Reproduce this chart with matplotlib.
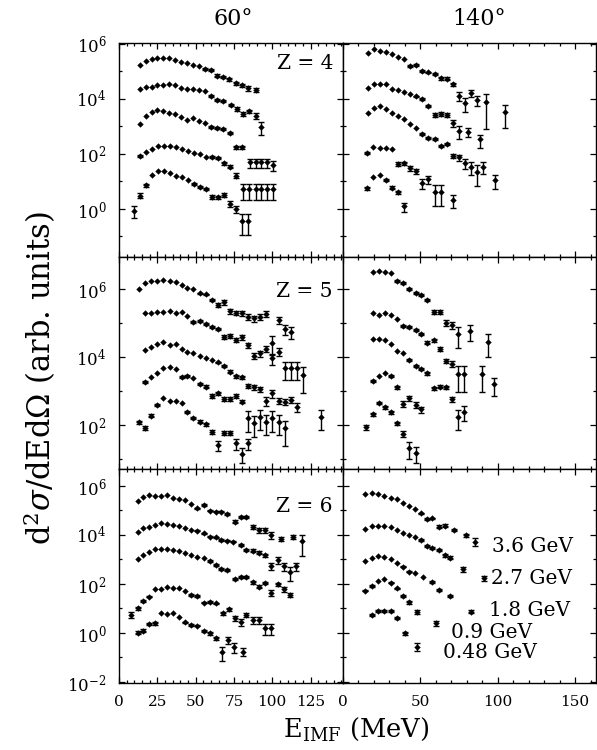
import numpy as np
import matplotlib
matplotlib.use("Agg")
import matplotlib.pyplot as plt
from matplotlib.ticker import FixedLocator, MultipleLocator, FuncFormatter, NullFormatter

plt.rcParams['font.family'] = ['DejaVu Serif']
plt.rcParams['mathtext.fontset'] = 'dejavuserif'

beam_labels = ["3.6 GeV", "2.7 GeV", "1.8 GeV", "0.9 GeV", "0.48 GeV"]
angle_labels = ["60°", "140°"]
charge_labels = ["Z = 4", "Z = 5", "Z = 6"]

# values: E (MeV), log10 of d2sigma/dEdOmega (arb. units), relative error
# ---- Z=4, 60 deg
z4a_e36 = [13.7,17.6,21.3,25.0,28.9,32.8,36.7,40.6,44.5,48.4,52.3,56.2,60.3,64.2,68.1,72.0,76.6,80.5,84.4,89.6]
z4a_l36 = [5.24,5.38,5.44,5.49,5.49,5.47,5.42,5.33,5.29,5.24,5.18,5.09,5.06,4.85,4.79,4.72,4.57,4.49,4.39,4.33]
z4a_f36 = [0,0,0,0,0,0,0,0,0,0,0,0.08,0.08,0.1,0.1,0.12,0.15,0.15,0.18,0.2]
z4a_e27 = [13.7,17.6,21.3,25.0,28.9,32.8,36.7,40.6,44.5,48.4,52.3,56.2,60.3,64.2,68.1,73.4,77.3,81.0,84.9,89.2,92.9]
z4a_l27 = [4.35,4.45,4.42,4.51,4.51,4.55,4.49,4.38,4.35,4.36,4.33,4.27,4.12,3.96,3.94,3.78,3.64,3.46,3.55,3.38,2.99]
z4a_f27 = [0,0,0,0,0,0,0,0,0,0,0,0,0.08,0.08,0.08,0.1,0.15,0.2,0.15,0.25,0.5]
z4a_e18 = [13.7,17.6,21.3,25.0,28.9,32.8,36.7,40.6,44.5,48.4,52.3,56.2,60.3,64.2,68.1,72.7,76.6,80.5,85.3,89.2,92.9,96.6,100.5]
z4a_l18 = [3.08,3.38,3.52,3.58,3.56,3.50,3.44,3.36,3.24,3.30,3.21,3.12,2.99,2.96,2.91,2.75,2.24,2.24,1.69,1.69,1.69,1.69,1.60]
z4a_f18 = [0,0,0,0,0,0,0,0,0,0,0,0,0.08,0.08,0.08,0.08,0.12,0.12,0.38,0.38,0.38,0.38,0.4]
z4a_e09 = [13.7,17.6,21.5,25.4,29.3,33.2,37.1,41.0,44.9,48.8,52.7,56.6,60.5,64.5,68.4,72.3,76.2,80.9,84.9,89.2,92.9,96.6,100.5]
z4a_l09 = [1.93,2.07,2.19,2.29,2.30,2.29,2.24,2.18,2.12,2.02,1.99,1.90,1.88,1.85,1.66,1.54,1.21,0.72,0.72,0.72,0.72,0.72,0.72]
z4a_f09 = [0.08,0,0,0,0,0,0,0,0,0,0,0,0.08,0.08,0.1,0.1,0.2,0.6,0.6,0.6,0.6,0.6,0.6]
z4a_e048 = [9.8,13.7,17.6,21.5,25.4,29.3,33.2,37.1,41.0,44.9,48.8,52.7,56.6,60.5,64.5,68.4,72.3,76.2,80.5,84.4]
z4a_l048 = [-0.07,0.485,0.86,1.24,1.39,1.37,1.32,1.18,1.15,1.06,0.91,0.81,0.72,0.45,0.42,0.51,0.18,0.0,-0.42,-0.42]
z4a_f048 = [0.45,0.2,0.1,0,0,0,0,0,0,0,0.08,0.08,0.1,0.15,0.15,0.15,0.25,0.3,0.7,0.7]
# ---- Z=4, 140 deg
z4b_e36 = [16.5,20.4,24.0,27.9,31.5,35.8,39.7,43.3,47.6,51.5,55.1,59.4,63.3,67.4,71.2,75.1,79.0,83.0,86.9,92.7,104.5]
z4b_l36 = [5.66,5.81,5.75,5.71,5.64,5.54,5.44,5.20,5.24,5.00,4.96,4.91,4.75,4.74,4.53,4.12,3.84,4.21,3.96,3.90,3.54]
z4b_f36 = [0,0,0,0,0,0,0,0.08,0.08,0.08,0.08,0.08,0.1,0.1,0.12,0.35,0.5,0.3,0.4,0.9,0.75]
z4b_e27 = [16.5,20.4,24.0,27.9,31.5,35.8,39.7,43.3,47.6,51.5,55.1,59.4,63.3,67.4,71.2,75.1,80.9,88.4]
z4b_l27 = [4.39,4.53,4.53,4.53,4.36,4.33,4.24,4.17,4.09,4.00,3.75,3.42,3.45,3.42,3.12,2.84,2.81,2.53]
z4b_f27 = [0,0,0,0,0,0,0,0,0.08,0.08,0.08,0.15,0.15,0.15,0.25,0.5,0.35,0.5]
z4b_e18 = [16.5,20.4,24.0,27.9,31.5,35.8,39.7,43.3,47.6,51.5,55.1,59.4,63.3,67.4,71.2,75.1,79.0,83.0,86.9,90.6,98.1]
z4b_l18 = [3.50,3.66,3.75,3.65,3.48,3.38,3.26,3.10,2.95,2.72,2.59,2.53,2.29,2.36,1.93,1.88,1.66,1.54,1.35,1.54,1.06]
z4b_f18 = [0,0,0,0,0,0,0,0,0,0.08,0.08,0.08,0.12,0.1,0.15,0.25,0.4,0.5,0.7,0.45,0.55]
z4b_e09 = [15.4,19.3,24.0,27.9,31.5,35.8,39.7,43.3,47.6,51.5,55.1,59.4,63.3,71.2]
z4b_l09 = [2.03,2.27,2.23,2.23,2.18,1.64,1.66,1.48,1.38,0.93,1.08,0.63,0.63,0.33]
z4b_f09 = [0.08,0,0,0,0,0.15,0.15,0.2,0.2,0.4,0.35,0.7,0.7,0.5]
z4b_e048 = [15.4,19.3,24.0,27.9,31.5,35.8,39.7]
z4b_l048 = [0.75,1.17,1.22,1.06,0.78,0.61,0.09]
z4b_f048 = [0.1,0,0,0.08,0.1,0.15,0.35]
# ---- Z=5, 60 deg
z5a_e36 = [13.0,16.9,20.6,24.5,28.9,33.2,37.1,40.8,44.7,48.4,52.7,56.6,60.8,64.7,68.6,72.5,76.6,80.5,84.2,88.1,92.0,96.1,104.2,108.1,112.0]
z5a_l36 = [6.00,6.17,6.25,6.25,6.27,6.25,6.22,6.11,6.02,6.00,5.87,5.84,5.68,5.53,5.61,5.35,5.30,5.28,5.19,5.14,5.19,5.26,5.09,4.82,4.75]
z5a_f36 = [0,0,0,0,0,0,0,0,0,0,0.06,0.06,0.08,0.15,0.15,0.15,0.15,0.15,0.2,0.2,0.2,0.2,0.25,0.35,0.4]
z5a_e27 = [16.9,20.6,24.5,28.9,33.2,37.1,40.8,44.7,48.4,52.7,56.6,60.8,64.7,68.6,72.5,76.6,80.5,84.2,88.1,92.0,96.1,100.0,104.2,108.1,112.0,115.9,120.0]
z5a_l27 = [5.28,5.28,5.33,5.31,5.36,5.28,5.31,5.22,5.04,5.07,4.97,4.89,4.82,4.60,4.63,4.50,4.58,4.35,4.04,4.11,4.23,4.42,4.16,3.67,3.67,3.67,3.47]
z5a_f27 = [0,0,0,0,0,0,0,0,0.06,0.06,0.06,0.06,0.08,0.15,0.15,0.15,0.15,0.15,0.2,0.2,0.2,0.55,0.25,0.55,0.55,0.55,0.7]
z5a_e18 = [16.9,20.6,24.5,28.9,33.2,37.1,40.8,44.7,48.4,52.7,56.6,60.8,64.7,68.6,72.5,76.6,80.5,84.2,88.1,92.0,96.1,100.0,104.2,108.1,112.0,115.9]
z5a_l18 = [4.21,4.30,4.37,4.45,4.35,4.37,4.23,4.16,4.11,4.04,3.98,3.91,3.84,3.74,3.57,3.44,3.40,3.15,3.11,3.05,2.72,2.93,2.72,2.69,2.74,2.54]
z5a_f18 = [0,0,0,0,0,0,0,0,0,0,0,0,0.06,0.08,0.08,0.1,0.1,0.15,0.15,0.15,0.3,0.25,0.2,0.2,0.2,0.3]
z5a_e09 = [16.9,20.6,24.5,28.9,33.2,37.1,40.8,44.7,48.4,52.7,56.6,60.8,64.7,68.6,72.5,76.6,80.5,84.2,88.1,92.0,96.1,100.0,100.0,104.2,108.1,131.9]
z5a_l09 = [3.26,3.42,3.52,3.67,3.70,3.64,3.42,3.44,3.37,3.21,3.13,2.86,2.93,2.77,2.77,2.85,2.69,2.20,2.05,2.25,2.10,2.20,3.96,2.10,1.90,2.25]
z5a_f09 = [0.08,0,0,0,0,0,0.06,0.06,0,0.06,0.08,0.12,0.12,0.12,0.12,0.12,0.12,0.6,0.6,0.6,0.6,0.6,0.35,0.6,0.7,0.6]
z5a_e048 = [13.0,16.9,20.6,24.5,28.9,33.2,37.1,40.8,44.7,48.4,52.7,56.6,60.8,64.7,68.6,72.5,76.6,80.5,84.2]
z5a_l048 = [2.08,1.92,2.27,2.59,2.78,2.71,2.72,2.66,2.39,2.20,2.10,2.03,1.80,1.41,1.77,1.77,1.46,1.15,1.46]
z5a_f048 = [0.12,0.15,0.1,0.06,0,0,0,0,0.06,0.08,0.1,0.1,0.15,0.35,0.15,0.15,0.35,0.45,0.35]
# ---- Z=5, 140 deg
z5b_e36 = [19.3,23.4,27.2,31.1,35.2,39.0,42.9,47.0,50.8,54.7,58.8,62.7,66.5,70.4,74.2,82.0,93.8]
z5b_l36 = [6.49,6.54,6.49,6.46,6.24,6.17,5.99,5.89,5.82,5.68,5.33,5.33,5.01,4.94,4.67,4.77,4.45]
z5b_f36 = [0,0,0,0,0.06,0.06,0.06,0.06,0.06,0.08,0.15,0.15,0.2,0.25,0.6,0.5,0.65]
z5b_e27 = [19.3,23.4,27.2,31.1,35.2,39.0,42.9,47.0,50.8,54.7,58.8,62.7,66.5,70.4,74.2,78.3,89.9,97.6]
z5b_l27 = [5.30,5.24,5.28,5.24,5.11,4.91,4.89,4.79,4.67,4.42,4.50,4.24,3.89,3.79,3.50,3.50,3.50,3.20]
z5b_f27 = [0,0,0,0,0,0.06,0.06,0.06,0.08,0.1,0.1,0.15,0.15,0.2,0.7,0.7,0.7,0.55]
z5b_e18 = [19.3,23.4,27.2,31.1,35.2,39.0,42.9,47.0,50.8,54.7,58.8,62.7,66.5,70.4,74.2,78.3]
z5b_l18 = [4.53,4.53,4.50,4.37,4.19,4.11,3.91,3.74,3.65,3.52,3.08,3.13,3.11,2.76,2.25,2.39]
z5b_f18 = [0,0,0,0,0,0,0.06,0.06,0.06,0.08,0.1,0.1,0.1,0.15,0.6,0.45]
z5b_e09 = [19.3,23.4,27.2,31.1,35.2,39.0,42.9,47.0,50.8]
z5b_l09 = [3.30,3.45,3.54,3.45,3.11,2.62,2.78,2.59,2.46]
z5b_f09 = [0.08,0,0,0.06,0.1,0.2,0.15,0.2,0.2]
z5b_e048 = [14.8,19.3,23.4,27.2,31.1,35.2,39.0,42.9,47.0]
z5b_l048 = [1.93,2.31,2.64,2.52,2.38,2.05,1.74,1.31,1.17]
z5b_f048 = [0.15,0.08,0.06,0.08,0.1,0.12,0.2,0.5,0.5]
# ---- Z=6, 60 deg
z6a_e36 = [12.2,15.8,19.8,23.4,27.3,31.2,35.4,39.3,43.2,47.3,51.2,55.6,59.2,63.2,66.8,70.7,75.5,79.4,83.1,87.5,91.4,95.1,99.4,105.5,113.5,119.6]
z6a_l36 = [5.39,5.54,5.63,5.59,5.59,5.62,5.50,5.46,5.43,5.25,5.09,5.22,4.99,4.95,4.95,4.86,4.54,4.72,4.72,4.34,4.20,4.20,4.00,3.84,3.93,3.76]
z6a_f36 = [0,0,0,0,0,0,0,0,0,0,0.06,0.06,0.06,0.06,0.06,0.06,0.15,0.1,0.1,0.2,0.25,0.25,0.3,0.2,0.2,0.75]
z6a_e27 = [12.2,15.8,19.8,23.4,27.3,31.2,35.4,39.3,43.2,47.3,51.2,55.6,59.2,63.2,66.8,70.7,74.4,79.4,83.1,87.5,91.4,95.1,99.4,103.7,107.4,111.3,115.7]
z6a_l27 = [4.11,4.27,4.34,4.41,4.48,4.45,4.41,4.38,4.30,4.20,4.18,4.07,3.93,3.91,3.80,3.77,3.73,3.59,3.39,3.36,3.28,3.18,2.73,2.98,2.73,2.50,2.73]
z6a_f27 = [0,0,0,0,0,0,0,0,0,0,0.06,0.06,0.06,0.06,0.06,0.06,0.08,0.1,0.12,0.12,0.12,0.15,0.3,0.3,0.35,0.6,0.35]
z6a_e18 = [12.2,15.8,19.8,23.4,27.3,31.2,35.4,39.3,43.2,47.3,51.2,55.6,59.2,63.2,66.8,70.7,75.5,79.4,83.1,87.5,91.4,95.1,99.4,103.7,107.4,111.3]
z6a_l18 = [3.01,3.18,3.32,3.42,3.42,3.42,3.39,3.36,3.28,3.18,3.12,3.05,2.94,2.78,2.61,2.57,2.20,2.30,2.30,2.07,1.89,2.03,1.65,1.99,1.78,1.55]
z6a_f18 = [0,0,0,0,0,0,0,0,0,0,0,0,0.06,0.06,0.08,0.08,0.1,0.1,0.1,0.15,0.15,0.1,0.25,0.15,0.2,0.2]
z6a_e09 = [7.8,12.2,15.8,19.8,23.4,27.3,31.2,35.4,39.3,43.2,47.3,51.2,55.6,59.2,63.2,67.9,71.6,75.5,79.4,83.1,87.5,91.4,95.1,99.4]
z6a_l09 = [0.74,1.01,1.31,1.48,1.78,1.78,1.86,1.85,1.82,1.71,1.55,1.51,1.24,1.28,1.21,0.80,0.97,0.60,0.46,0.74,0.53,0.53,0.19,0.19]
z6a_f09 = [0.25,0.15,0.1,0.06,0,0,0,0,0,0,0.06,0.06,0.08,0.08,0.08,0.15,0.15,0.2,0.3,0.2,0.3,0.3,0.45,0.45]
z6a_e048 = [12.2,15.8,19.8,23.4,27.3,31.2,35.4,39.3,43.2,47.3,51.2,55.6,59.2,63.2,67.3,71.2,75.1,80.9]
z6a_l048 = [0.01,0.10,0.37,0.39,0.83,0.78,0.80,0.67,0.44,0.33,0.30,0.10,-0.01,-0.22,-0.76,-0.29,-0.56,-0.76]
z6a_f048 = [0.15,0.12,0.1,0.1,0,0,0,0,0.06,0.06,0.06,0.1,0.12,0.15,0.6,0.3,0.45,0.35]
# ---- Z=6, 140 deg
z6b_e36 = [14.4,18.7,22.9,26.8,30.9,34.8,38.6,42.7,46.6,50.4,54.1,57.9,62.2,66.1,71.9,79.8,85.6]
z6b_l36 = [5.66,5.73,5.66,5.59,5.52,5.46,5.32,5.18,5.05,4.88,4.64,4.68,4.34,4.38,4.20,4.00,3.73]
z6b_f36 = [0,0,0,0,0,0,0,0,0,0.06,0.08,0.08,0.12,0.12,0.08,0.15,0.35]
z6b_e27 = [14.4,18.7,22.9,26.8,30.9,34.8,38.6,42.7,46.6,50.4,54.1,57.9,62.2,66.1,69.5,77.7,91.0]
z6b_l27 = [4.25,4.38,4.37,4.37,4.34,4.20,4.10,4.00,3.91,3.80,3.55,3.46,3.39,3.18,3.08,2.60,2.23]
z6b_f27 = [0,0,0,0,0,0,0,0,0,0.06,0.08,0.08,0.1,0.15,0.15,0.2,0.2]
z6b_e18 = [14.4,18.7,22.9,26.8,30.9,34.8,38.6,42.7,46.6,51.9,57.9,62.2,69.5,83.0]
z6b_l18 = [2.95,3.08,3.14,3.12,3.02,2.84,2.71,2.50,2.46,2.27,2.07,1.76,1.51,0.87]
z6b_f18 = [0,0,0,0,0,0,0.06,0.06,0,0,0.08,0.1,0.1,0.15]
z6b_e09 = [14.4,18.7,22.9,26.8,30.9,34.8,38.6,42.7,48.1,60.1]
z6b_l09 = [1.73,1.92,2.14,2.20,2.05,1.82,1.51,1.25,0.87,0.40]
z6b_f09 = [0.08,0.06,0,0,0.06,0.08,0.1,0.15,0.2,0.25]
z6b_e048 = [18.7,22.9,26.8,30.9,34.8,40.1,48.1]
z6b_l048 = [0.74,0.90,0.90,0.90,0.60,-0.01,-0.56]
z6b_f048 = [0.08,0.08,0.08,0.08,0.1,0.15,0.35]

panels = [
    [[(z4a_e36, z4a_l36, z4a_f36), (z4a_e27, z4a_l27, z4a_f27), (z4a_e18, z4a_l18, z4a_f18),
      (z4a_e09, z4a_l09, z4a_f09), (z4a_e048, z4a_l048, z4a_f048)],
     [(z4b_e36, z4b_l36, z4b_f36), (z4b_e27, z4b_l27, z4b_f27), (z4b_e18, z4b_l18, z4b_f18),
      (z4b_e09, z4b_l09, z4b_f09), (z4b_e048, z4b_l048, z4b_f048)]],
    [[(z5a_e36, z5a_l36, z5a_f36), (z5a_e27, z5a_l27, z5a_f27), (z5a_e18, z5a_l18, z5a_f18),
      (z5a_e09, z5a_l09, z5a_f09), (z5a_e048, z5a_l048, z5a_f048)],
     [(z5b_e36, z5b_l36, z5b_f36), (z5b_e27, z5b_l27, z5b_f27), (z5b_e18, z5b_l18, z5b_f18),
      (z5b_e09, z5b_l09, z5b_f09), (z5b_e048, z5b_l048, z5b_f048)]],
    [[(z6a_e36, z6a_l36, z6a_f36), (z6a_e27, z6a_l27, z6a_f27), (z6a_e18, z6a_l18, z6a_f18),
      (z6a_e09, z6a_l09, z6a_f09), (z6a_e048, z6a_l048, z6a_f048)],
     [(z6b_e36, z6b_l36, z6b_f36), (z6b_e27, z6b_l27, z6b_f27), (z6b_e18, z6b_l18, z6b_f18),
      (z6b_e09, z6b_l09, z6b_f09), (z6b_e048, z6b_l048, z6b_f048)]],
]

W, H = 597, 750
fig = plt.figure(figsize=(W / 100, H / 100), dpi=100)

col_px = [(119, 342.7), (342.7, 596)]
row_px = [(42.5, 256.7), (256.7, 469), (469, 682.7)]
xlims = [(0, 146), (0, 163.5)]
ylog = [(-1.735, 6.05), (0.706, 6.95), (-2.03, 6.694)]
xmaj = [25, 50]
xmin = [5, 10]
zlab_y = [63, 292, 507]

def fmt_pow(v, pos):
    return r"$10^{%d}$" % int(round(np.log10(v)))

for r in range(3):
    for c in range(2):
        x0, x1 = col_px[c]
        t, b = row_px[r]
        ax = fig.add_axes([x0 / W, 1 - b / H, (x1 - x0) / W, (b - t) / H])
        ax.set_yscale('log')
        ax.set_xlim(*xlims[c])
        lo, hi = ylog[r]
        ax.set_ylim(10 ** lo, 10 ** hi)
        for (E, L, F) in panels[r][c]:
            E = np.array(E, float)
            y = 10 ** np.array(L, float)
            f = np.array(F, float)
            m = f > 0
            if m.any():
                ax.errorbar(E[m], y[m], yerr=[y[m] * f[m], y[m] * f[m]], fmt='none',
                            ecolor='k', elinewidth=1.0, capsize=2.2, capthick=1.0)
            ax.plot(E, y, 'D', ms=2.9, color='k', mec='k', mew=0.3, ls='none')
        evens = [10.0 ** k for k in range(-2, 8, 2) if lo <= k <= hi]
        odds = [10.0 ** k for k in range(-1, 8, 2) if lo <= k <= hi]
        ax.yaxis.set_major_locator(FixedLocator(evens))
        ax.yaxis.set_minor_locator(FixedLocator(odds))
        ax.yaxis.set_minor_formatter(NullFormatter())
        ax.yaxis.set_major_formatter(FuncFormatter(fmt_pow))
        ax.xaxis.set_major_locator(MultipleLocator(xmaj[c]))
        ax.xaxis.set_minor_locator(MultipleLocator(xmin[c]))
        ax.tick_params(which='both', direction='in', top=True, right=True, width=0.9)
        ax.tick_params(which='major', length=4.5)
        ax.tick_params(which='minor', length=2.2)
        ax.tick_params(axis='y', which='major', labelsize=12, pad=9)
        ax.tick_params(axis='x', which='major', labelsize=11, pad=9)
        for s in ax.spines.values():
            s.set_linewidth(1.0)
        if c == 1:
            ax.tick_params(labelleft=False)
        if r < 2:
            ax.tick_params(labelbottom=False)
        if c == 0:
            ax.text((333 - x0) / (x1 - x0), 1 - (zlab_y[r] - t) / (b - t),
                    charge_labels[r], transform=ax.transAxes, ha='right', va='center',
                    fontsize=14.5)
        if r == 2 and c == 1:
            leg_pos = [(491.7, 546), (491, 578), (489, 610), (450.7, 632), (442.7, 653)]
            for (px, py), lab in zip(leg_pos, beam_labels):
                ax.text((px - x0) / (x1 - x0), 1 - (py - t) / (b - t), lab,
                        transform=ax.transAxes, ha='left', va='center', fontsize=14.5)

fig.text(233 / W, 1 - 19 / H, angle_labels[0], ha='center', va='center', fontsize=16)
fig.text(479 / W, 1 - 19 / H, angle_labels[1], ha='center', va='center', fontsize=16)
fig.text(40 / W, 1 - 378 / H, r"d$^2\sigma$/dEd$\Omega$ (arb. units)", rotation=90,
         ha='center', va='center', fontsize=22)
fig.text(356 / W, 1 - 729 / H, r"E$_{\mathrm{IMF}}$ (MeV)", ha='center', va='center',
         fontsize=18.5)

fig.savefig("out.png", dpi=100)
